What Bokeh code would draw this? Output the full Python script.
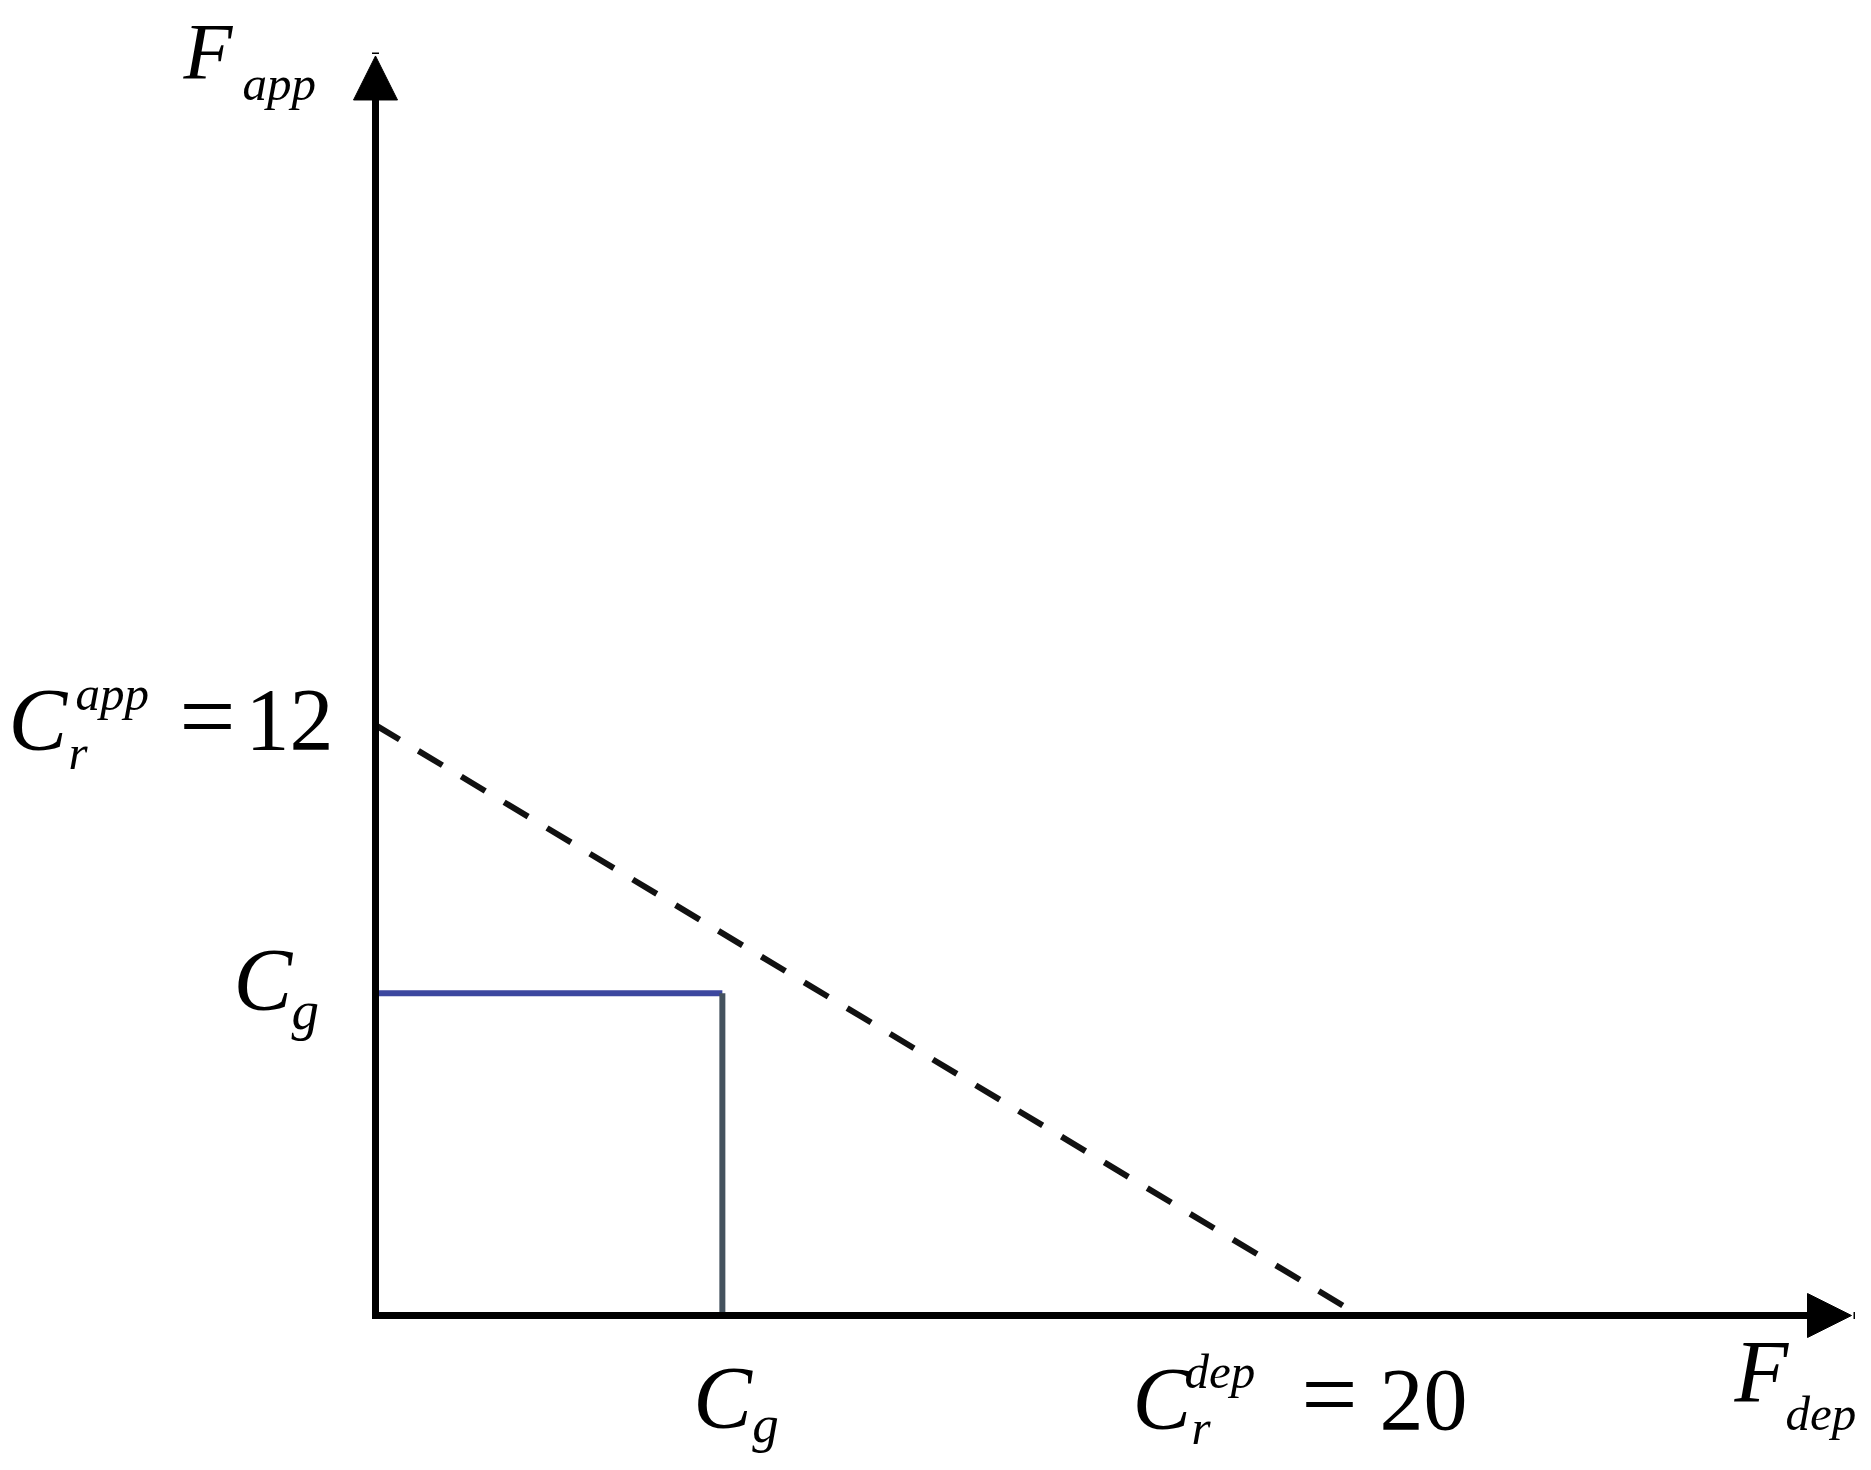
from bokeh.plotting import figure
from bokeh.models import Range1d, Arrow, NormalHead
from bokeh.core.properties import value
from bokeh.embed import file_html
from bokeh.resources import INLINE

# ---- data ----
x_axis_max = 30.0          # F_dep axis extent
y_axis_max = 25.6          # F_app axis extent
cr_dep = 20.0              # C_r^dep = 20
cr_app = 12.0              # C_r^app = 12
cg_dep = 7.05              # C_g on F_dep axis
cg_app = 6.55              # C_g on F_app axis

dash_x = [0.0, cr_dep]
dash_y = [cr_app, 0.0]
cg_h_x = [0.0, cg_dep]
cg_h_y = [cg_app, cg_app]
cg_v_x = [cg_dep, cg_dep]
cg_v_y = [cg_app, 0.0]

# ---- layout ----
W, H = 1855, 1454
S = 49.2                  # px per unit
OX, OY = 375, 1315        # origin in canvas px

p = figure(width=W, height=H, output_backend="svg", toolbar_location=None,
           x_range=Range1d(-OX / S, (W - OX) / S),
           y_range=Range1d(-(H - OY) / S, OY / S),
           min_border=0, border_fill_color="white", background_fill_color="white")
p.axis.visible = False
p.grid.visible = False
p.outline_line_color = None

# axes with arrow heads
for (x0, y0, x1, y1) in [(0, 0, x_axis_max, 0), (0, 0, 0, y_axis_max)]:
    p.add_layout(Arrow(x_start=x0, y_start=y0, x_end=x1, y_end=y1,
                       line_width=7, line_color="black", line_cap="square",
                       end=NormalHead(size=44, fill_color="black", line_color="black", line_width=1)))

# dashed line
p.line(dash_x, dash_y, line_color="#111111", line_width=6, line_dash="28 22")
# C_g lines
p.line(cg_h_x, cg_h_y, line_color="#3C479F", line_width=6)
p.line(cg_v_x, cg_v_y, line_color="#44525E", line_width=6)

MAIN = 88
SUB = 49
EQ = 100
FONT = value("Liberation Serif")
K = 0.36   # baseline compensation (fraction of font size)

def put(ax, ay, dx, dy, txt, size, italic=True, align="left"):
    dy = dy - K * size
    p.text(x=[ax + dx / S], y=[ay - dy / S], text=[txt], text_font=FONT,
           text_font_size=value(f"{size}px"),
           text_font_style="italic" if italic else "normal",
           text_align=align, text_baseline="alphabetic", text_color="black")

# F_app
put(0, y_axis_max, -192, 25, "F", 80)
put(0, y_axis_max, -133, 45, "app", SUB)
# F_dep
put(x_axis_max, 0, -117, 88, "F", MAIN)
put(x_axis_max, 0, -66, 116, "dep", SUB)
# C_r^app = 12
put(0, cr_app, -367, 26, "C", MAIN)
put(0, cr_app, -300, -14, "app", SUB)
put(0, cr_app, -307, 45, "r", SUB)
put(0, cr_app, -168, 27, "=", EQ, italic=False, align="center")
put(0, cr_app, -130, 27, "12", MAIN, italic=False)
# C_r^dep = 20
put(cr_dep, 0, -227, 115, "C", MAIN)
put(cr_dep, 0, -175, 74, "dep", SUB)
put(cr_dep, 0, -168, 130, "r", SUB)
put(cr_dep, 0, -30, 115, "=", EQ, italic=False, align="center")
put(cr_dep, 0, 20, 116, "20", MAIN, italic=False)
# C_g (left)
put(0, cg_app, -142, 18, "C", MAIN)
put(0, cg_app, -84, 37, "g", 55)
# C_g (bottom)
put(cg_dep, 0, -29, 114, "C", MAIN)
put(cg_dep, 0, 30, 128, "g", 53)

open("out.html", "w").write(file_html(p, INLINE))
